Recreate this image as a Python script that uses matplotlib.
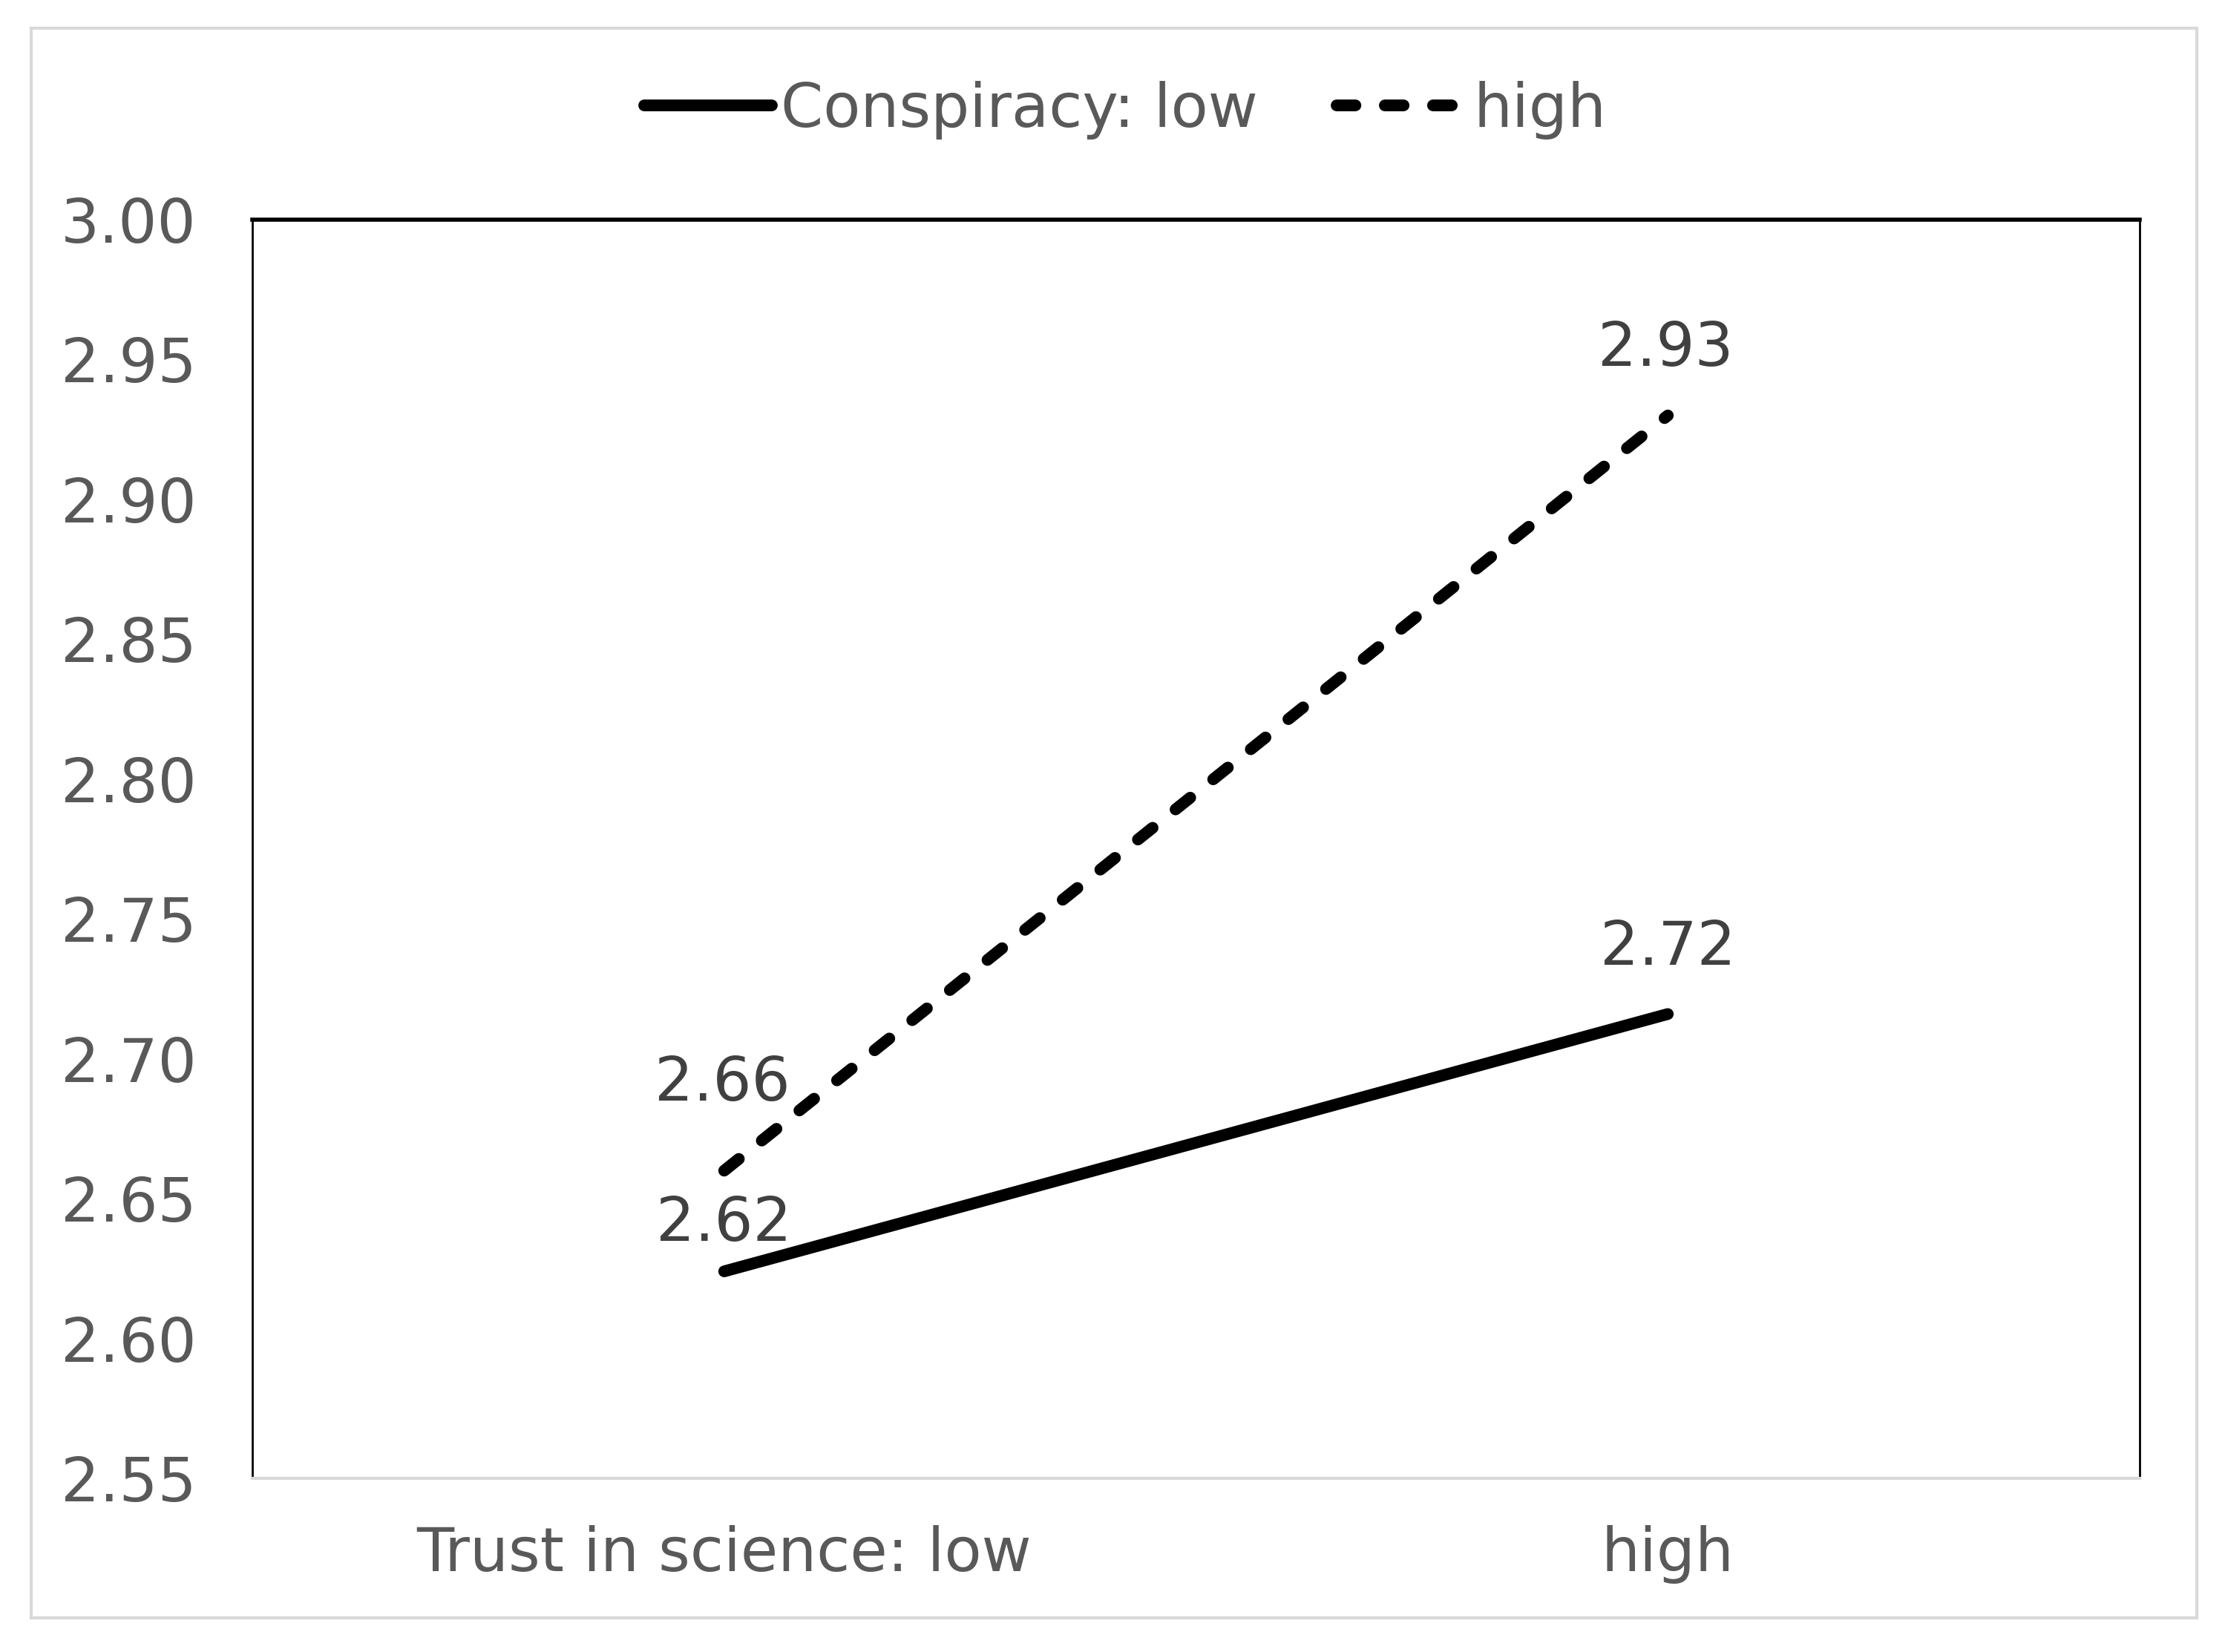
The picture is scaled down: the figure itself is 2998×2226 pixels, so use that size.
import matplotlib
matplotlib.use("Agg")
import matplotlib.pyplot as plt
from matplotlib.patches import Rectangle

categories = ["Trust in science: low", "high"]
series_names = ["Conspiracy: low", "high"]
conspiracy_low = [2.624, 2.716]
conspiracy_high = [2.660, 2.930]
yticks = [2.55, 2.60, 2.65, 2.70, 2.75, 2.80, 2.85, 2.90, 2.95, 3.00]

plt.rcParams['font.family'] = ['DejaVu Sans']
TXT = '#595959'
LBL = '#404040'
FS = 29.5

fig = plt.figure(figsize=(14.99, 11.13), dpi=200)
fig.patch.set_facecolor('white')
fig.patches.append(Rectangle((42/2998, 1-2180/2226), (2960-42)/2998, (2180-38)/2226,
                             transform=fig.transFigure, fill=False,
                             edgecolor='#d9d9d9', linewidth=1.5))

ax = fig.add_axes([340/2998, 1-1992/2226, (2883-340)/2998, (1992-296)/2226])
x = list(range(len(categories)))
lw = 5.7
l1, = ax.plot(x, conspiracy_low, color='black', linewidth=lw, solid_capstyle='round',
              label=series_names[0])
l2, = ax.plot(x, conspiracy_high, color='black', linewidth=lw, dash_capstyle='round',
              linestyle=(0, (1.6, 2.5)), label=series_names[1])

ax.set_xlim(-0.5, 1.5)
ax.set_ylim(2.55, 3.00)
ax.set_yticks(yticks)
ax.set_yticklabels([f"{v:.2f}" for v in yticks])
ax.set_xticks(x)
ax.set_xticklabels(categories)
ax.tick_params(axis='both', length=0, labelsize=FS, colors=TXT)
ax.tick_params(axis='y', pad=27)
ax.tick_params(axis='x', pad=22.5)

for side in ['top', 'left', 'right']:
    ax.spines[side].set_color('black')
    ax.spines[side].set_linewidth(1.0)
ax.spines['top'].set_linewidth(2.0)
ax.spines['bottom'].set_color('#d9d9d9')
ax.spines['bottom'].set_linewidth(1.5)

offsets_low = [23, 32]
offsets_high = [42, 32]
for xi, v, off in zip(x, conspiracy_low, offsets_low):
    ax.annotate(f"{v:.2f}", (xi, v), xytext=(0, off), textcoords='offset points',
                ha='center', va='center', fontsize=FS, color=LBL)
for xi, v, off in zip(x, conspiracy_high, offsets_high):
    ax.annotate(f"{v:.2f}", (xi, v), xytext=(-1, off), textcoords='offset points',
                ha='center', va='center', fontsize=FS, color=LBL)

leg = fig.legend(handles=[l1, l2], loc='center', bbox_to_anchor=(0.5057, 1-148/2226),
                 ncol=2, frameon=False, fontsize=FS, handlelength=2.1,
                 handletextpad=0.15, columnspacing=1.3, labelcolor=TXT)

fig.savefig("out.png", dpi=200, facecolor='white')
